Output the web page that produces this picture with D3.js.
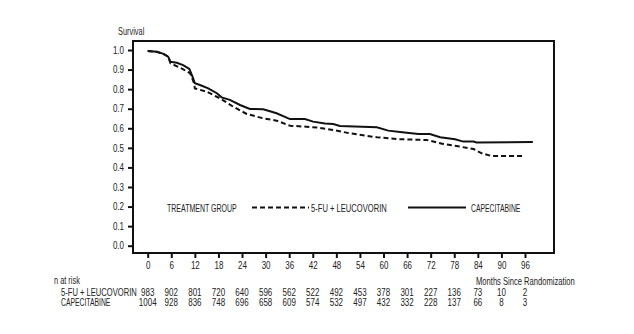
<!DOCTYPE html>
<html>
<head>
<meta charset="utf-8">
<script src="https://cdn.jsdelivr.net/npm/d3@7"></script>
<style>
  body { margin: 0; background: #fff; }
  svg text { font-family: "Liberation Sans", Arial, Helvetica, sans-serif; font-size: 10px; fill: #222; }
</style>
</head>
<body>
<svg width="634" height="334"></svg>
<script>
// month ticks and patients at risk under each one
var months = [0, 6, 12, 18, 24, 30, 36, 42, 48, 54, 60, 66, 72, 78, 84, 90, 96];
var riskFU = [983, 902, 801, 720, 640, 596, 562, 522, 492, 453, 378, 301, 227, 136, 73, 10, 2];
var riskCap = [1004, 928, 836, 748, 696, 658, 609, 574, 532, 497, 432, 332, 228, 137, 66, 8, 3];
var survTicks = [0, 0.1, 0.2, 0.3, 0.4, 0.5, 0.6, 0.7, 0.8, 0.9, 1.0];

// Kaplan-Meier estimates, capecitabine arm
var capMonths = [0, 2.3, 4, 5.2, 5.8, 7.4, 9, 10.6, 11.4, 12, 13.3, 15.4, 17.6, 18.8, 20.9, 23.5, 26, 29.4, 32.8, 36.2, 40, 42.1, 45.1, 47.2, 48.9, 58.3, 61.2, 64.2, 68.9, 71.8, 74.4, 78.2, 80.3, 82.9, 83.7, 98];
var capSurv = [0.995, 0.991, 0.98, 0.966, 0.94, 0.935, 0.923, 0.903, 0.864, 0.83, 0.821, 0.804, 0.779, 0.758, 0.745, 0.719, 0.699, 0.697, 0.677, 0.647, 0.647, 0.634, 0.625, 0.622, 0.612, 0.605, 0.588, 0.581, 0.571, 0.571, 0.554, 0.544, 0.532, 0.532, 0.527, 0.53];

// 5-FU + leucovorin arm
var fuMonths = [0, 2.3, 4, 5.2, 5.8, 8.6, 10.8, 11.8, 12, 15, 18.4, 21.8, 25.2, 29.4, 32.8, 36.2, 40.4, 43, 47.2, 51.5, 58.3, 64.2, 71, 75.2, 79.5, 82.9, 85, 87.5, 96];
var fuSurv = [0.995, 0.991, 0.98, 0.966, 0.932, 0.906, 0.881, 0.83, 0.804, 0.787, 0.753, 0.71, 0.673, 0.651, 0.639, 0.613, 0.608, 0.604, 0.591, 0.574, 0.554, 0.544, 0.54, 0.52, 0.506, 0.494, 0.472, 0.458, 0.458];

var svg = d3.select("svg");

var box = {left: 133, top: 41, right: 554, bottom: 253};

// condensed look: squeeze the regular sans horizontally
var squeeze = 0.74, squeezeNum = 0.8;

var x = d3.scaleLinear().domain([0, 96]).range([147.7, 525]);
var y = d3.scaleLinear().domain([0, 1]).range([245.7, 50]);

var capData = capMonths.map(function(m, i) { return [m, capSurv[i]]; });
var fuData = fuMonths.map(function(m, i) { return [m, fuSurv[i]]; });

var line = d3.line()
    .x(function(d) { return x(d[0]); })
    .y(function(d) { return y(d[1]); });

function label(px, py, str, k, anchor) {
  return svg.append("text")
      .attr("transform", "translate(" + px + "," + py + ") scale(" + (k || squeeze) + ",1)")
      .attr("text-anchor", anchor || "start")
      .text(str);
}

// frame
svg.append("rect")
    .attr("x", box.left)
    .attr("y", box.top)
    .attr("width", box.right - box.left)
    .attr("height", box.bottom - box.top)
    .attr("fill", "none")
    .attr("stroke", "#111")
    .attr("stroke-width", 2);

var yAxis = svg.append("g")
    .attr("transform", "translate(" + box.left + ",0)")
    .call(d3.axisLeft(y).tickValues(survTicks).tickFormat(d3.format(".1f")).tickSize(5).tickPadding(4));

var xAxis = svg.append("g")
    .attr("transform", "translate(0," + box.bottom + ")")
    .call(d3.axisBottom(x).tickValues(months).tickSize(5).tickPadding(4));

[yAxis, xAxis].forEach(function(g) {
  g.select(".domain").remove();
  g.selectAll(".tick line").attr("stroke", "#111").attr("stroke-width", 2);
  g.selectAll(".tick text")
      .attr("fill", "#222")
      .style("font-size", "10px")
      .attr("font-family", null);
});
yAxis.selectAll(".tick text")
    .attr("x", -9 / squeezeNum)
    .attr("transform", "scale(" + squeezeNum + ",1)");
xAxis.selectAll(".tick text")
    .attr("transform", "scale(" + squeezeNum + ",1)");

label(118, 34.5, "Survival");

// survival curves
svg.append("path")
    .datum(fuData)
    .attr("d", line)
    .attr("fill", "none")
    .attr("stroke", "#111")
    .attr("stroke-width", 2)
    .attr("stroke-dasharray", "5,3");

svg.append("path")
    .datum(capData)
    .attr("d", line)
    .attr("fill", "none")
    .attr("stroke", "#111")
    .attr("stroke-width", 2);

// legend
var legendY = 208;
label(167, legendY + 3.5, "TREATMENT GROUP", 0.7);

svg.append("line")
    .attr("x1", 252).attr("x2", 309)
    .attr("y1", legendY - 0.5).attr("y2", legendY - 0.5)
    .attr("stroke", "#111")
    .attr("stroke-width", 2)
    .attr("stroke-dasharray", "5,3");

label(311, legendY + 3.5, "5-FU + LEUCOVORIN", 0.76);

svg.append("line")
    .attr("x1", 408).attr("x2", 466)
    .attr("y1", legendY - 0.5).attr("y2", legendY - 0.5)
    .attr("stroke", "#111")
    .attr("stroke-width", 2);

label(471, legendY + 3.5, "CAPECITABINE", 0.68);

label(476, 285, "Months Since Randomization", 0.76);

// numbers at risk
label(54, 284, "n at risk");

var rows = [
  {label: "5-FU + LEUCOVORIN", values: riskFU, y: 295.5},
  {label: "CAPECITABINE", values: riskCap, y: 306}
];

rows.forEach(function(r) {
  label(61, r.y, r.label, r.label === "CAPECITABINE" ? 0.68 : 0.76);

  svg.append("g").selectAll("text")
      .data(r.values)
      .enter().append("text")
      .attr("transform", function(d, i) {
        return "translate(" + x(months[i]) + "," + r.y + ") scale(" + squeezeNum + ",1)";
      })
      .attr("text-anchor", "middle")
      .text(function(d) { return d; });
});
</script>
</body>
</html>
